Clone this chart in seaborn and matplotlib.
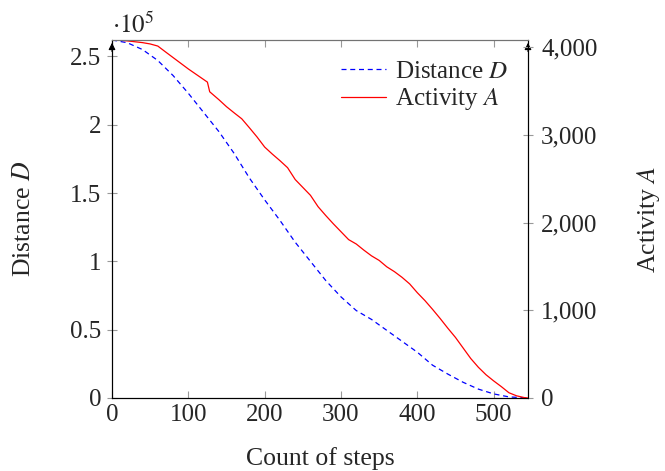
import numpy as np
import pandas as pd
import seaborn as sns
import matplotlib.pyplot as plt
from matplotlib.lines import Line2D
from matplotlib.ticker import FuncFormatter

# distance D (left axis)
steps_d = [0, 20, 40, 60, 80, 100, 120, 140, 160, 180, 200, 220, 240, 260, 280,
           300, 320, 340, 360, 380, 400, 420, 440, 460, 480, 500, 520, 545]
distance = [262000, 260000, 255000, 247000, 236000, 223000, 209000, 195000, 179000,
            161000, 145000, 130000, 114000, 100000, 86000, 74000, 64000, 57500,
            49500, 41500, 33500, 24000, 17500, 11500, 6500, 3000, 800, 0]

# activity A (right axis)
steps_a = [0, 10, 20, 30, 40, 50, 60, 70, 80, 90, 100, 110, 120, 125, 128, 140,
           150, 160, 170, 180, 190, 200, 210, 220, 230, 240, 250, 260, 270, 280,
           290, 300, 310, 320, 330, 340, 350, 360, 370, 380, 390, 400, 410, 420,
           430, 440, 450, 460, 470, 480, 490, 500, 510, 520, 530, 540, 545]
activity = [4080, 4078, 4070, 4060, 4050, 4035, 4011, 3945, 3880, 3815, 3750, 3690,
            3630, 3600, 3490, 3400, 3320, 3250, 3182, 3080, 2975, 2860, 2780, 2705,
            2625, 2490, 2400, 2310, 2180, 2080, 1985, 1895, 1805, 1755, 1685, 1620,
            1568, 1495, 1440, 1375, 1300, 1200, 1110, 1010, 905, 795, 690, 570, 450,
            350, 265, 195, 130, 60, 25, 5, 0]

df_d = pd.DataFrame({'steps': steps_d, 'D': np.array(distance) / 1e5})
df_a = pd.DataFrame({'steps': steps_a, 'A': activity})

FS = 18
LFS = 18.5

sns.set_style('white')
plt.rcParams['font.family'] = ['Liberation Serif', 'DejaVu Serif']
plt.rcParams['mathtext.fontset'] = 'stix'
plt.rcParams['font.size'] = FS

fig = plt.figure(figsize=(6.65, 4.71), dpi=100)
ax = fig.add_axes([112 / 665, 1 - 398 / 471, 416 / 665, 358 / 471])
ax2 = ax.twinx()

sns.lineplot(data=df_d, x='steps', y='D', ax=ax, color='blue', lw=0.9,
             linestyle=(0, (4, 3)))
sns.lineplot(data=df_a, x='steps', y='A', ax=ax2, color='red', lw=0.9)

ax.set_xlim(0, 545)
ax.set_ylim(0, 2.62)
ax2.set_ylim(0, 4080)
ax.set_xticks([0, 100, 200, 300, 400, 500])
ax.set_yticks([0, 0.5, 1, 1.5, 2, 2.5])
ax.set_yticklabels(['0', '0.5', '1', '1.5', '2', '2.5'])
ax2.set_yticks([0, 1000, 2000, 3000, 4000])
ax2.yaxis.set_major_formatter(FuncFormatter(lambda v, p: f'{int(v):,}'))

ax.set_xlabel('Count of steps', fontsize=LFS, va='center')
ax.set_ylabel(r'Distance $D$', fontsize=LFS, va='center')
ax2.set_ylabel(r'Activity $A$', fontsize=LFS, va='center')
ax.xaxis.set_label_coords(0.5, (398 - 459) / 358)
ax.yaxis.set_label_coords((24 - 112) / 416, 0.5)
ax2.yaxis.set_label_coords((648 - 112) / 416, 0.5)

for a in (ax, ax2):
    for s in a.spines.values():
        s.set_linewidth(0.8)
        s.set_color('black')
    a.spines['top'].set_color('0.45')

ax.tick_params(axis='x', direction='in', length=5, color='0.6', top=True,
               bottom=True, labelsize=FS, pad=4)
ax.tick_params(axis='y', direction='inout', length=7, color='0.6',
               labelsize=FS, pad=4)
ax2.tick_params(axis='y', direction='inout', length=7, color='0.6',
                labelsize=FS, pad=6)

# arrow tips on the vertical axes
for xpos in (0, 1):
    ax.annotate('', xy=(xpos, 1.0), xytext=(xpos, 0.96), xycoords='axes fraction',
                arrowprops=dict(arrowstyle='-|>', color='black', lw=0.8,
                                mutation_scale=10), annotation_clip=False)

ax.text(0, 1.005, r'$\cdot 10^5$', transform=ax.transAxes, fontsize=FS,
        ha='left', va='bottom')

handles = [Line2D([], [], color='blue', lw=0.9, linestyle=(0, (4, 3))),
           Line2D([], [], color='red', lw=0.9)]
ax2.legend(handles, [r'Distance $D$', r'Activity $A$'], loc='upper right',
           frameon=False, fontsize=FS, handlelength=1.8, handletextpad=0.35,
           borderaxespad=0.4, labelspacing=0.15)

fig.savefig('out.png', dpi=100)
